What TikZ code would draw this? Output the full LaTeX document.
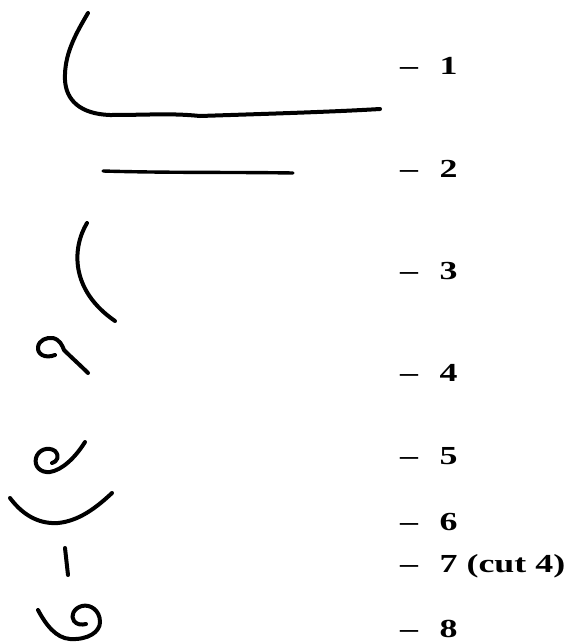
\documentclass[tikz,border=0pt]{standalone}
\usepackage{fontspec}
\setmainfont{Liberation Serif}
\tikzset{
  stroke/.style={line width=4pt, line cap=round, line join=round, black},
  lbl/.style={anchor=base west, inner sep=0pt, font=\fontsize{26}{28}\selectfont\bfseries}
}
\newcommand{\lab}[1]{\scalebox{1.38}[1]{–\hspace{0.6em}#1}}
\begin{document}
\begin{tikzpicture}[x=1pt,y=-1pt]
\useasboundingbox (0,0) rectangle (568,643);
\fill[white] (0,0) rectangle (568,643);
% 1
\draw[stroke] (88,13) .. controls (75,35) and (64,55) .. (65,80)
  .. controls (66,100) and (80,114) .. (110,115)
  .. controls (150,115) and (170,113) .. (200,116)
  .. controls (260,114) and (330,112) .. (380,109);
% 2
\draw[stroke, line width=3.4pt] (103,171) .. controls (170,173) and (230,172) .. (293,173);
% 3
\draw[stroke] (87,223) .. controls (72,248) and (70,290) .. (115,321);
% 4
\draw[stroke] (55,355) .. controls (45,359) and (37,354) .. (38,347)
  .. controls (39,340) and (47,337) .. (53,338)
  .. controls (60,340) and (62,345) .. (64,350)
  .. controls (72,358) and (80,365) .. (88,373);
% 5
\draw[stroke] (85,442) .. controls (75,458) and (62,470) .. (50,472)
  .. controls (40,473) and (34,466) .. (36,458)
  .. controls (38,450) and (48,446) .. (55,451)
  .. controls (60,456) and (57,462) .. (52,463);
% 6
\draw[stroke] (10,498) .. controls (25,518) and (42,524) .. (58,523)
  .. controls (78,521) and (95,509) .. (112,493);
% 7
\draw[stroke] (65,548) -- (68,575);
% 8
\draw[stroke] (38,610) .. controls (46,625) and (56,638) .. (70,639)
  .. controls (88,640) and (100,632) .. (100,622)
  .. controls (100,610) and (90,604) .. (82,606)
  .. controls (74,608) and (70,616) .. (74,621)
  .. controls (77,625) and (82,625) .. (86,624);
% labels
\node[lbl] (l1) at (400,74) {\lab{1}};
\node[lbl] (l2) at (400,177) {\lab{2}};
\node[lbl] (l3) at (400,279) {\lab{3}};
\node[lbl] (l4) at (400,381) {\lab{4}};
\node[lbl] (l5) at (400,464) {\lab{5}};
\node[lbl] (l6) at (400,530) {\lab{6}};
\node[lbl] (l7) at (400,572) {\lab{7 (cut 4)}};
\node[lbl] (l8) at (400,637) {\lab{8}};
\end{tikzpicture}
\end{document}
